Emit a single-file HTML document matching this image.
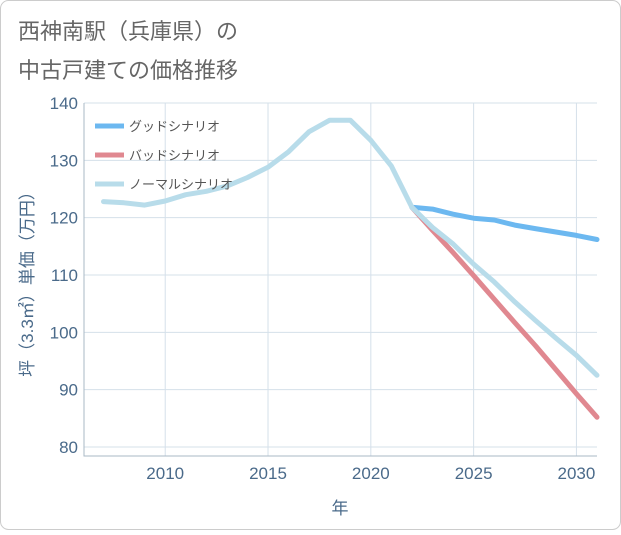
<!DOCTYPE html>
<html><head><meta charset="utf-8"><style>
body{margin:0;background:#fff;}
#wrap{position:relative;width:621px;height:530px;font-family:"Liberation Sans","Noto Sans CJK JP",sans-serif;}
</style></head><body>
<div id="wrap">
<svg id="chart" width="621" height="530">
<rect x="0.5" y="0.5" width="620" height="529" rx="8" fill="#fff" stroke="#ccc"/>
<text x="18" y="39" font-size="22" fill="#666">西神南駅（兵庫県）の</text>
<text x="18" y="78" font-size="22" fill="#666">中古戸建ての価格推移</text>
<g id="grid"></g><g id="axes"></g><g id="series"></g><g id="legend"></g>
<text transform="translate(33,280) rotate(-90)" text-anchor="middle" font-size="17" fill="#4a6a8a">坪（3.3㎡）単価（万円）</text>
<text x="340" y="514" text-anchor="middle" font-size="17" fill="#4a6a8a">年</text>
</svg></div>
<script>
const years=[2007,2008,2009,2010,2011,2012,2013,2014,2015,2016,2017,2018,2019,2020,2021,2022,2023,2024,2025,2026,2027,2028,2029,2030,2031];
const histValues=[122.8,122.6,122.2,122.9,124,124.6,125.5,127,128.8,131.5,135,137,137,133.5,129,121.8];
const goodValues=[121.8,121.5,120.6,119.9,119.6,118.7,118.1,117.5,116.9,116.2];
const badValues=[121.8,117.8,113.9,109.9,105.8,101.7,97.7,93.5,89.3,85.2];
const normalValues=[121.8,118.3,115.4,111.9,108.8,105.3,102.1,99,96,92.5];
const yTicks=[80,90,100,110,120,130,140];
const xTicks=[2010,2015,2020,2025,2030];
const legendLabels=["グッドシナリオ","バッドシナリオ","ノーマルシナリオ"];
const colors=["#6cb8f0","#e08890","#b8dcea"];
const L=84,R=597,T=103,B=456;
const x=v=>L+(v-2006.05)*(R-L)/(2031-2006.05);
const y=v=>447-(v-80)*(447-103)/60;
const NS="http://www.w3.org/2000/svg";
function mk(tag,attrs,parent){const e=document.createElementNS(NS,tag);for(const k in attrs)e.setAttribute(k,attrs[k]);document.getElementById(parent).appendChild(e);return e;}
yTicks.forEach(t=>{
 const l=mk('line',{x1:L,x2:R,y1:y(t),y2:y(t),stroke:'#d5e0ea'},'grid');
 
 
 const tx=mk('text',{x:L-6,y:y(t)+6,'text-anchor':'end','font-size':17,fill:'#4a6a8a'},'axes');tx.textContent=t;
 
 
});
xTicks.forEach(t=>{
 const l=mk('line',{x1:x(t),x2:x(t),y1:T,y2:B,stroke:'#d5e0ea'},'grid');
 
 
 const tx=mk('text',{x:x(t),y:B+23,'text-anchor':'middle','font-size':17,fill:'#4a6a8a'},'axes');tx.textContent=t;
 
 
});
const ax=mk('path',{d:`M${L},${T}V${B}H${R}`,stroke:'#aab8c6',fill:'none'},'axes');


function line(vals,start,color,name){
 const p=vals.map((v,i)=>(i?'L':'M')+x(years[start+i]).toFixed(1)+','+y(v).toFixed(1)).join('');
 const e=mk('path',{d:p,stroke:color,'stroke-width':5,fill:'none','stroke-linejoin':'round','stroke-linecap':'round'},'series');
 
 
}
line(goodValues,15,colors[0],'good-scenario-line');
line(badValues,15,colors[1],'bad-scenario-line');
line(normalValues,15,colors[2],'normal-scenario-line');
line(histValues,0,colors[2],'historical-line');
legendLabels.forEach((s,i)=>{
 const yy=126+i*29;
 const l=mk('line',{x1:95,x2:124,y1:yy,y2:yy,stroke:colors[i],'stroke-width':5},'legend');
 
 
 const t=mk('text',{x:129,y:yy+5,'font-size':13,fill:'#555'},'legend');t.textContent=s;
 
 
});
</script>
</body></html>
